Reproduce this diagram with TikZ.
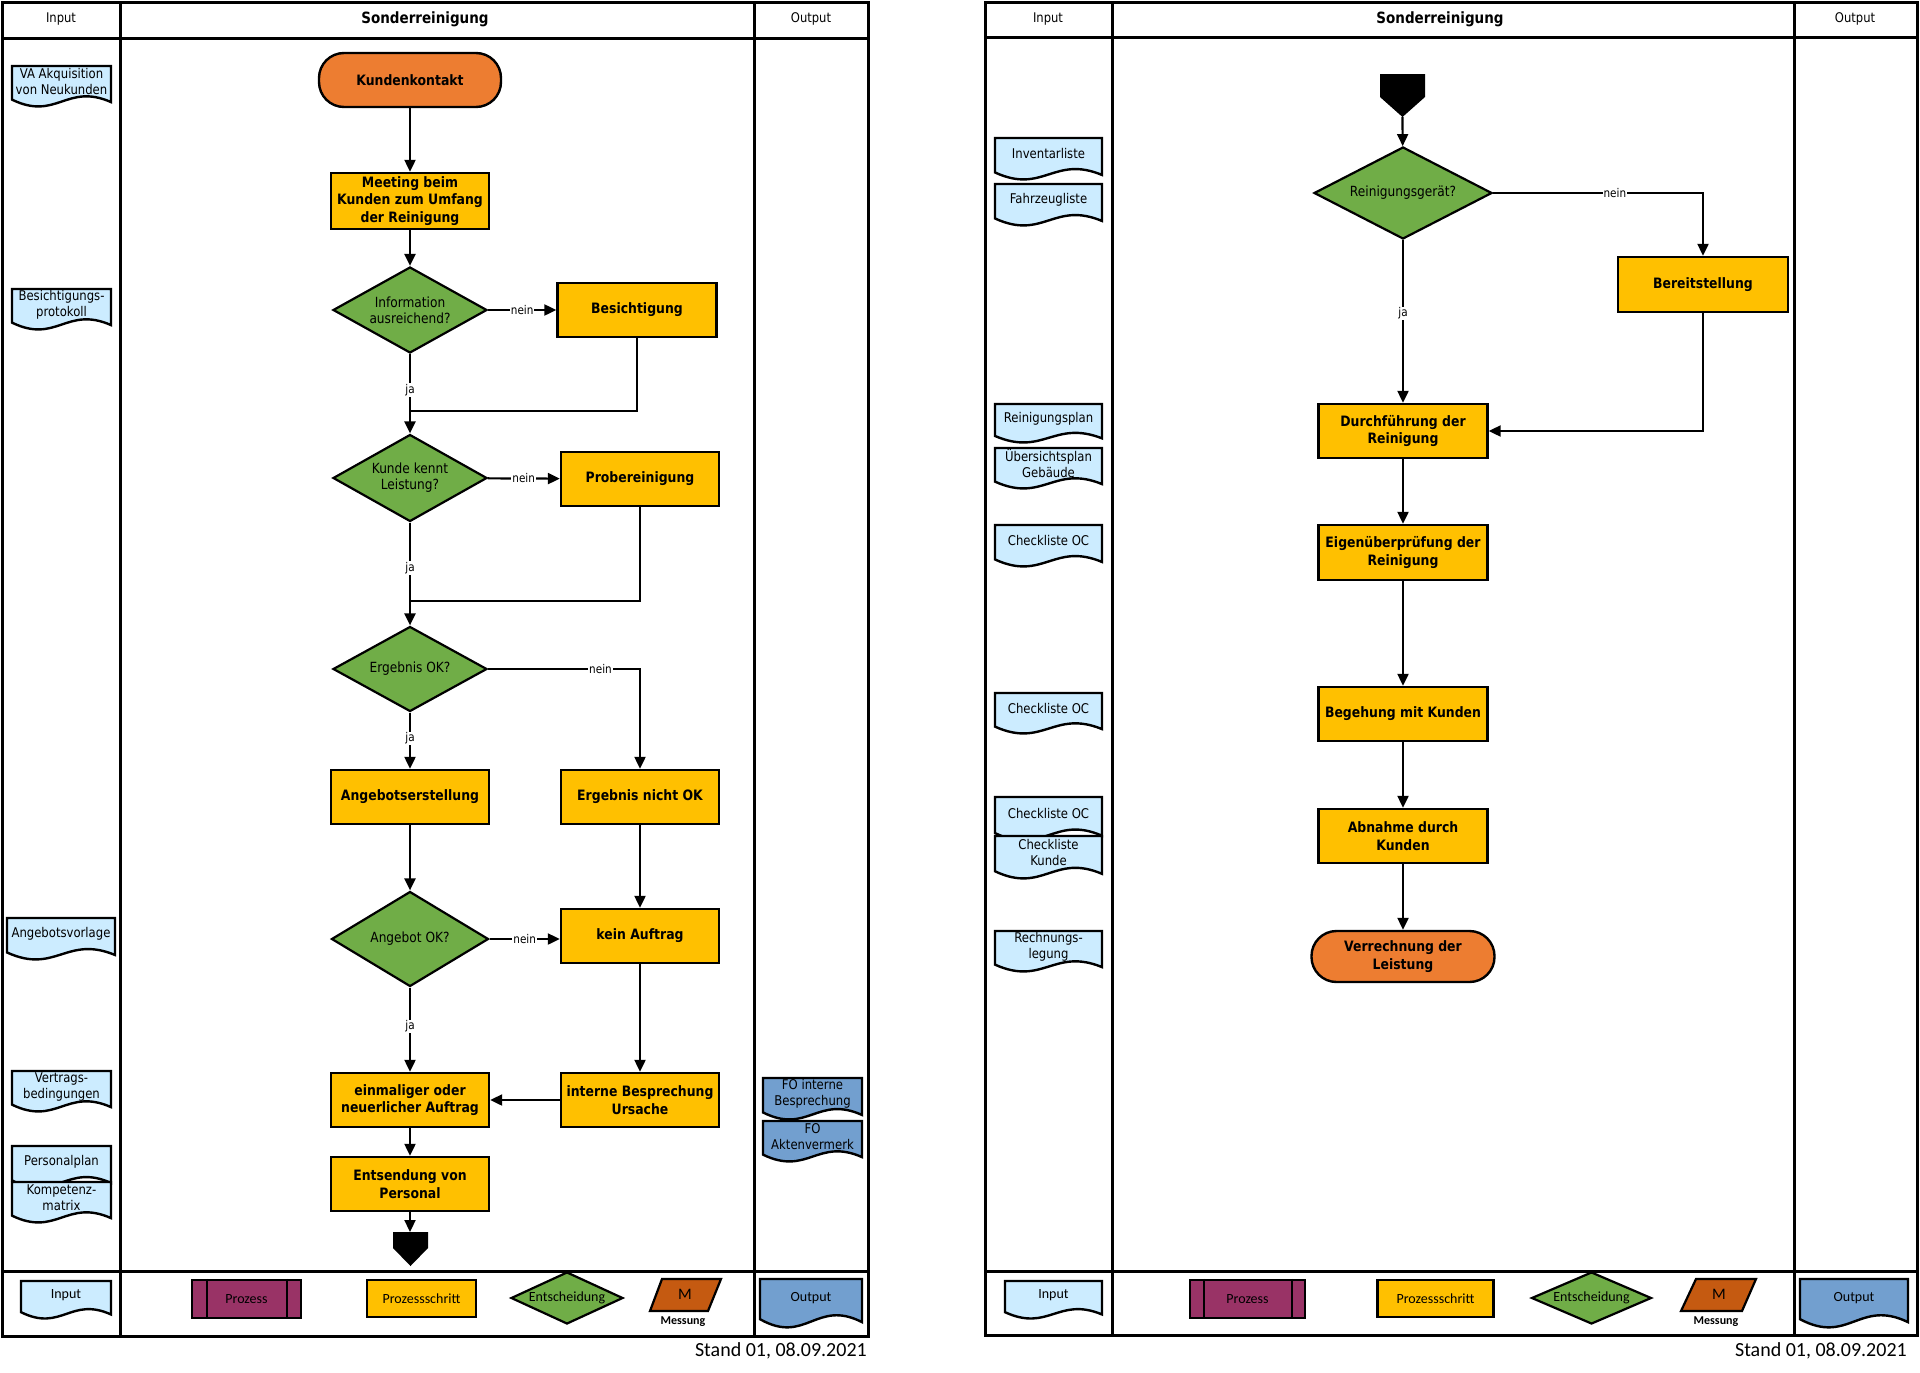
\documentclass[tikz,border=0pt]{standalone}
\usepackage{fontspec}
\setmainfont{DejaVu Sans}[FakeStretch=0.87]
\newfontfamily\calfont{Carlito}
\usetikzlibrary{arrows.meta,shapes.geometric}
\definecolor{termorange}{HTML}{ED7D31}
\definecolor{stepyellow}{HTML}{FFC000}
\definecolor{decgreen}{HTML}{70AD47}
\definecolor{docblue}{HTML}{CCECFF}
\definecolor{outblue}{HTML}{729FCF}
\definecolor{procpurple}{HTML}{993366}
\definecolor{measorange}{HTML}{C55A11}
\tikzset{
  frame/.style={line width=3pt},
  shapeline/.style={draw=black, line width=2.4pt},
  stepbox/.style={shapeline, fill=stepyellow, minimum width=158pt, minimum height=54pt, inner sep=2pt, align=center, font=\fontsize{14.3}{17.5}\selectfont\bfseries},
  termbox/.style={shapeline, fill=termorange, rounded corners=25pt, inner sep=2pt, align=center, font=\fontsize{14.3}{17.5}\selectfont\bfseries},
  decide/.style={shapeline, line width=2.2pt, diamond, shape aspect=1.8, fill=decgreen, inner sep=0pt, align=center, font=\fontsize{14}{16}\selectfont},
  conn/.style={line width=2.2pt, -{Triangle[length=12pt,width=11pt]}},
  plainline/.style={line width=2.2pt},
  lbl/.style={fill=white, inner sep=1pt, font=\fontsize{12}{13}\selectfont},
  docline/.style={draw=black, line width=2.4pt, line join=miter},
  doctext/.style={align=center, inner sep=0pt, font=\fontsize{13.4}{16}\selectfont},
  legtext/.style={align=center, inner sep=0pt, font=\calfont\fontsize{14}{16}\selectfont},
  hdr/.style={font=\fontsize{13.3}{15}\selectfont},
  title/.style={font=\fontsize{15.5}{18}\selectfont\bfseries},
  legbox/.style={draw=black, line width=2.2pt, inner sep=0pt, font=\calfont\fontsize{14}{16}\selectfont},
  stand/.style={anchor=east, inner sep=0pt, font=\calfont\fontsize{20}{22}\selectfont},
  mess/.style={inner sep=0pt, font=\calfont\fontsize{12}{14}\selectfont\bfseries},
}
\newcommand\docshape[8]{%
  \pgfmathsetmacro\dW{#4-#2}%
  \pgfmathsetmacro\dH{#5-#3}%
  \draw[docline, fill=#6] (#2,#3) -- (#4,#3) -- (#4,#5-0.12*\dH)
     .. controls (#2+0.55*\dW,#5-0.6*\dH) and (#2+0.45*\dW,#5+0.35*\dH) .. (#2,#5-0.18*\dH) -- cycle;
  \node[#8] (#1) at ({(#2+#4)/2},{#3+0.38*\dH}) {#7};
}
\begin{document}
\begin{tikzpicture}[x=1pt,y=-1pt]
\useasboundingbox (0,0) rectangle (1920,1373);

% ---------------- left frame ----------------
\draw[frame] (2,2) rectangle (868,1336);
\draw[frame] (2,38) -- (868,38);
\draw[frame] (2,1271) -- (868,1271);
\draw[frame] (120,2) -- (120,1336);
\draw[frame] (754,2) -- (754,1336);
\node[hdr] (hInL) at (61,19) {Input};
\node[title] (hTitL) at (425,19) {Sonderreinigung};
\node[hdr] (hOutL) at (811,19) {Output};

% ---------------- right frame ----------------
\draw[frame] (985,2) rectangle (1917,1335);
\draw[frame] (985,37) -- (1917,37);
\draw[frame] (985,1271) -- (1917,1271);
\draw[frame] (1112,2) -- (1112,1335);
\draw[frame] (1794,2) -- (1794,1335);
\node[hdr] (hInR) at (1048,19) {Input};
\node[title] (hTitR) at (1440,19) {Sonderreinigung};
\node[hdr] (hOutR) at (1855,19) {Output};

% ---------------- left flow ----------------
\node[termbox, minimum width=182pt, minimum height=54pt] (kk) at (410,80) {Kundenkontakt};
\node[stepbox, minimum height=56pt] (meet) at (410,201) {Meeting beim\\Kunden zum Umfang\\der Reinigung};
\node[decide, minimum width=154pt, minimum height=86pt] (d1) at (410,310) {Information\\ausreichend?};
\node[stepbox, minimum width=159pt] (besi) at (637,310) {Besichtigung};
\node[decide, minimum width=154pt, minimum height=87pt] (d2) at (410,478) {Kunde kennt\\Leistung?};
\node[stepbox] (probe) at (640,479) {Probereinigung};
\node[decide, minimum width=154pt, minimum height=85pt] (d3) at (410,669) {Ergebnis OK?};
\node[stepbox] (ang) at (410,797) {Angebotserstellung};
\node[stepbox] (nok) at (640,797) {Ergebnis nicht OK};
\node[decide, minimum width=157pt, minimum height=95pt] (d4) at (410,939) {Angebot OK?};
\node[stepbox] (kein) at (640,936) {kein Auftrag};
\node[stepbox] (einm) at (410,1100) {einmaliger oder\\neuerlicher Auftrag};
\node[stepbox] (intern) at (640,1100) {interne Besprechung\\Ursache};
\node[stepbox] (ents) at (410,1184) {Entsendung von\\Personal};
\fill (393,1232) -- (428,1232) -- (428,1248) -- (410.5,1266) -- (393,1248) -- cycle;
\coordinate (offA) at (410,1232);
\coordinate (m1) at (410,411);
\coordinate (m2) at (410,601);

\draw[conn] (kk) -- (meet);
\draw[conn] (meet) -- (d1);
\draw[conn] (d1) -- node[lbl]{nein} (besi);
\draw[plainline] (besi.south) |- (m1);
\draw[conn] (d1) -- node[lbl,pos=0.45]{ja} (d2);
\draw[conn] (d2) -- node[lbl]{nein} (probe);
\draw[plainline] (probe.south) |- (m2);
\draw[conn] (d2) -- node[lbl,pos=0.44]{ja} (d3);
\draw[conn] (d3) -| node[lbl,pos=0.37]{nein} (nok);
\draw[conn] (d3) -- node[lbl,pos=0.46]{ja} (ang);
\draw[conn] (ang) -- (d4);
\draw[conn] (nok) -- (kein);
\draw[conn] (d4.east) -- node[lbl]{nein} (d4.east -| kein.west);
\draw[conn] (d4) -- node[lbl,pos=0.46]{ja} (einm);
\draw[conn] (kein) -- (intern);
\draw[conn] (intern) -- (einm);
\draw[conn] (einm) -- (ents);
\draw[conn] (ents) -- (offA);

% left inputs / outputs
\docshape{vaA}{12}{66}{111}{107}{docblue}{VA Akquisition\\von Neukunden}{doctext}
\docshape{besP}{12}{289}{111}{330}{docblue}{Besichtigungs-\\protokoll}{doctext}
\docshape{angV}{7}{918}{115}{960}{docblue}{Angebotsvorlage}{doctext}
\docshape{vert}{12}{1071}{111}{1112}{docblue}{Vertrags-\\bedingungen}{doctext}
\docshape{pers}{12}{1146}{111}{1188}{docblue}{Personalplan}{doctext}
\docshape{komp}{12}{1182}{111}{1223}{docblue}{Kompetenz-\\matrix}{doctext}
\docshape{foI}{763}{1078}{862}{1120}{outblue}{FO interne\\Besprechung}{doctext}
\docshape{foA}{763}{1121}{862}{1162}{outblue}{FO\\Aktenvermerk}{doctext}

% left legend
\docshape{lgInL}{21}{1281}{111}{1319}{docblue}{Input}{legtext}
\node[legbox, fill=procpurple, minimum width=109pt, minimum height=38pt] (lgPL) at (246.5,1299) {Prozess};
\draw[line width=2.2pt] ([xshift=16pt]lgPL.north west) -- ([xshift=16pt]lgPL.south west);
\draw[line width=2.2pt] ([xshift=-15pt]lgPL.north east) -- ([xshift=-15pt]lgPL.south east);
\node[legbox, fill=stepyellow, minimum width=109pt, minimum height=37pt] (lgSL) at (421.5,1298.5) {Prozessschritt};
\node[legbox, diamond, shape aspect=2.3, fill=decgreen, minimum width=112pt, minimum height=52pt] (lgDL) at (567,1298) {Entscheidung};
\draw[line width=2.2pt, fill=measorange] (662,1279) -- (721,1279) -- (708,1311) -- (650,1311) -- cycle;
\node[legtext, font=\calfont\fontsize{16}{18}\selectfont] (lgML) at (685,1294) {M};
\node[mess] (lgMsL) at (683,1322) {Messung};
\docshape{lgOutL}{760}{1279}{862}{1328}{outblue}{Output}{legtext}
\node[stand] (standL) at (867,1351) {Stand 01, 08.09.2021};

% ---------------- right flow ----------------
\fill (1380,74) -- (1425,74) -- (1425,97) -- (1402.5,117) -- (1380,97) -- cycle;
\coordinate (offB) at (1402.5,117);
\node[decide, shape aspect=1.95, minimum width=178pt, minimum height=92pt] (rd) at (1403,193) {Reinigungsgerät?};
\node[stepbox, minimum width=170pt, minimum height=55pt] (bereit) at (1703,284.5) {Bereitstellung};
\node[stepbox, minimum width=169pt] (durch) at (1403,431) {Durchführung der\\Reinigung};
\node[stepbox, minimum width=169pt, minimum height=55pt] (eigen) at (1403,552.5) {Eigenüberprüfung der\\Reinigung};
\node[stepbox, minimum width=169pt] (beg) at (1403,714) {Begehung mit Kunden};
\node[stepbox, minimum width=169pt] (abn) at (1403,836) {Abnahme durch\\Kunden};
\node[termbox, minimum width=183pt, minimum height=51pt] (verr) at (1403,956.5) {Verrechnung der\\Leistung};

\draw[conn] (offB) -- (rd);
\draw[conn] (rd) -| node[lbl,pos=0.29]{nein} (bereit);
\draw[conn] (rd) -- node[lbl,pos=0.45]{ja} (durch);
\draw[conn] (bereit) |- (durch);
\draw[conn] (durch) -- (eigen);
\draw[conn] (eigen) -- (beg);
\draw[conn] (beg) -- (abn);
\draw[conn] (abn) -- (verr);

% right inputs
\docshape{inv}{995}{138}{1102}{180}{docblue}{Inventarliste}{doctext}
\docshape{fahr}{995}{184}{1102}{226}{docblue}{Fahrzeugliste}{doctext}
\docshape{rplan}{995}{404}{1102}{443}{docblue}{Reinigungsplan}{doctext}
\docshape{uebs}{995}{448}{1102}{489}{docblue}{Übersichtsplan\\Gebäude}{doctext}
\docshape{cOCa}{995}{525}{1102}{567}{docblue}{Checkliste OC}{doctext}
\docshape{cOCb}{995}{693}{1102}{734}{docblue}{Checkliste OC}{doctext}
\docshape{cOCc}{995}{797}{1102}{841}{docblue}{Checkliste OC}{doctext}
\docshape{cKun}{995}{836}{1102}{879}{docblue}{Checkliste\\Kunde}{doctext}
\docshape{rech}{995}{931}{1102}{972}{docblue}{Rechnungs-\\legung}{doctext}

% right legend
\docshape{lgInR}{1005}{1281}{1102}{1319}{docblue}{Input}{legtext}
\node[legbox, fill=procpurple, minimum width=115pt, minimum height=38pt] (lgPR) at (1247.5,1299) {Prozess};
\draw[line width=2.2pt] ([xshift=15pt]lgPR.north west) -- ([xshift=15pt]lgPR.south west);
\draw[line width=2.2pt] ([xshift=-14pt]lgPR.north east) -- ([xshift=-14pt]lgPR.south east);
\node[legbox, fill=stepyellow, minimum width=116pt, minimum height=37pt] (lgSR) at (1435.5,1298.5) {Prozessschritt};
\node[legbox, diamond, shape aspect=2.3, fill=decgreen, minimum width=120pt, minimum height=52pt] (lgDR) at (1591.5,1298) {Entscheidung};
\draw[line width=2.2pt, fill=measorange] (1696,1279) -- (1756,1279) -- (1742,1311) -- (1681,1311) -- cycle;
\node[legtext, font=\calfont\fontsize{16}{18}\selectfont] (lgMR) at (1719,1294) {M};
\node[mess] (lgMsR) at (1716,1322) {Messung};
\docshape{lgOutR}{1800}{1279}{1908}{1328}{outblue}{Output}{legtext}
\node[stand] (standR) at (1907,1351) {Stand 01, 08.09.2021};
\end{tikzpicture}
\end{document}
